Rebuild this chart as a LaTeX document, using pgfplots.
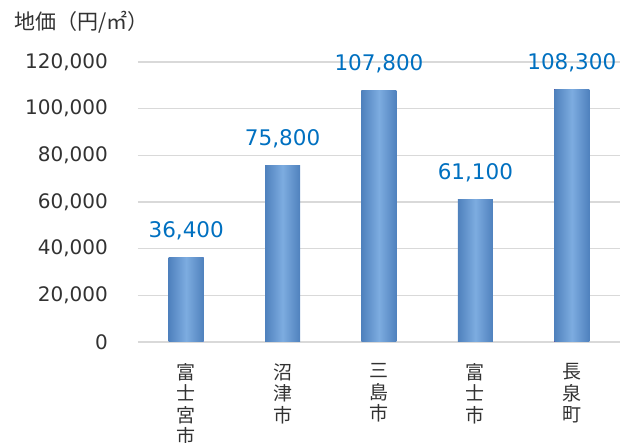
\documentclass[border=0pt]{standalone}
\usepackage{fontspec}
\setmainfont{DejaVu Sans}
\newfontfamily\cjk{Noto Sans CJK JP}
\usepackage{pgfplots}
\pgfplotsset{compat=1.18}
\definecolor{barEdge}{RGB}{79,129,189}
\definecolor{barMid}{RGB}{125,172,224}
\definecolor{valBlue}{RGB}{0,112,192}
\definecolor{gridGray}{RGB}{217,217,217}
\definecolor{txt}{RGB}{50,50,50}
\begin{document}
\begin{tikzpicture}
  \path[use as bounding box] (-138pt,-101pt) rectangle (492pt,342pt);
  \begin{axis}[
      scale only axis,
      width=482pt, height=280pt,
      xmin=-0.5, xmax=4.5,
      ymin=0, ymax=120000,
      ytick={0,20000,...,120000},
      xtick={0,1,2,3,4},
      xticklabels={{富\\士\\宮\\市},{沼\\津\\市},{三\\島\\市},{富\\士\\市},{長\\泉\\町}},
      xticklabel style={font=\cjk\fontsize{19}{21.5}\selectfont, align=center, anchor=north, inner sep=0pt, yshift=-17pt, text=txt},
      yticklabel style={font=\fontsize{20}{24}\selectfont, anchor=east, inner sep=0pt, xshift=-30pt, text=txt},
      /pgf/number format/.cd, fixed, precision=0, 1000 sep={,}, assume math mode=true,
      /pgfplots/.cd,
      scaled y ticks=false,
      axis line style={draw=none},
      tick style={draw=none},
      ymajorgrids,
      grid style={gridGray, line width=1.3pt},
      ybar, bar width=35pt, bar shift=0pt,
      every axis plot/.append style={draw=none, left color=barEdge, right color=barEdge, middle color=barMid},
      nodes near coords,
      nodes near coords style={font=\fontsize{21.5}{24}\selectfont, text=valBlue, anchor=south, inner sep=0pt, yshift=17pt},
      clip=false,
    ]
    \addplot coordinates {(0,36400)};
    \addplot coordinates {(1,75800)};
    \addplot coordinates {(2,107800)};
    \addplot coordinates {(3,61100)};
    \addplot coordinates {(4,108300)};
    \node[anchor=base west, font=\cjk\fontsize{21}{24}\selectfont, text=txt, inner sep=0pt]
      at ([xshift=-124pt, yshift=32pt]rel axis cs:0,1) {地価（円/㎡）};
  \end{axis}
\end{tikzpicture}
\end{document}
